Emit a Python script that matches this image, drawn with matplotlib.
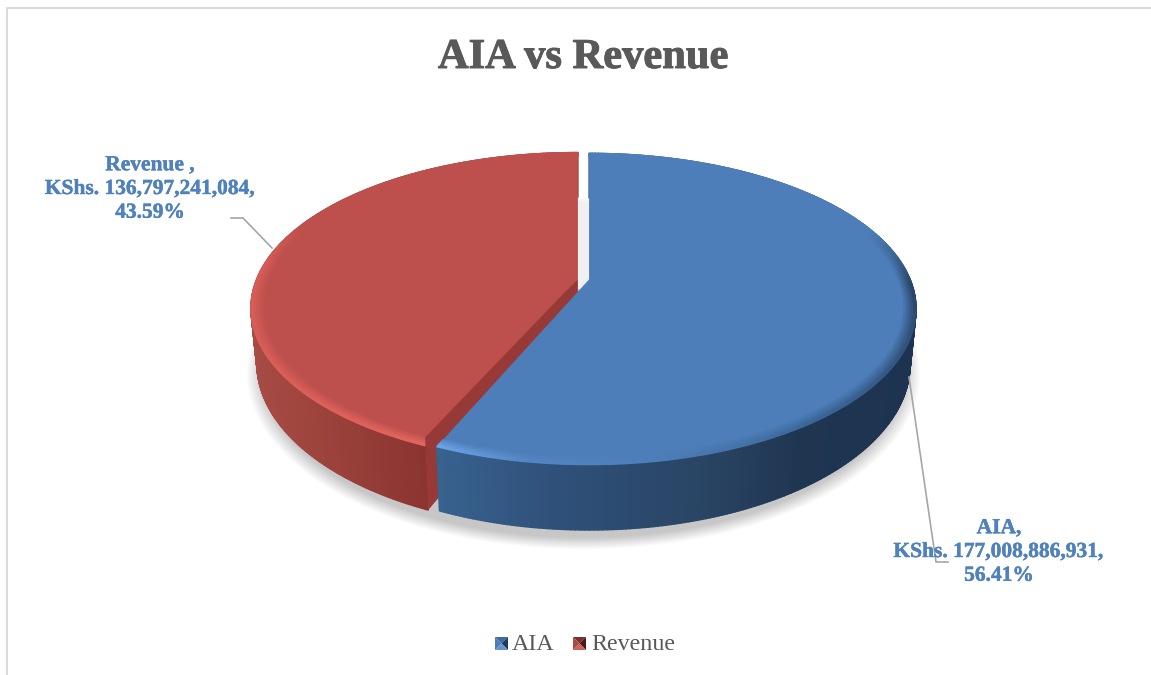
import numpy as np
import matplotlib
matplotlib.use("Agg")
import matplotlib.pyplot as plt
import matplotlib.patheffects as pe
from matplotlib.collections import PolyCollection
from matplotlib.colors import to_rgb

categories = ["AIA", "Revenue"]
values = [177008886931, 136797241084]
percents = ["56.41%", "43.59%"]
amounts = ["KShs. 177,008,886,931,", "KShs. 136,797,241,084,"]
title = "AIA vs Revenue"

plt.rcParams["font.family"] = ["Liberation Serif", "DejaVu Serif"]

# pie geometry in pixels, perspective makes the front of the disc bigger
CX, CY = 583.5, 279.0
RX, RY = 321.0, 150.0
PERSP = 0.19
DEPTH = 53.0
EXPLODE = 5.7


def project(u, v, drop=0.0, off=(0.0, 0.0)):
    s = 1.0 / (1.0 + PERSP * v)
    shrink = 1.0 - 0.018 * (drop / DEPTH)
    return CX + off[0] + RX * u * s * shrink, CY + off[1] - RY * v * s + drop * s


def disc(ang, r):
    # ang is clockwise from the top, in degrees
    a = np.radians(ang)
    return r * np.sin(a), r * np.cos(a)


def slice_offset(start, end):
    mid = np.radians((start + end) / 2)
    return EXPLODE * np.sin(mid), -2.0 * np.cos(mid)


def mix(stops, colors, t):
    rgb = np.array([to_rgb(c) for c in colors])
    return np.column_stack([np.interp(t, stops, rgb[:, i]) for i in range(3)])


def strips(ax, x1, y1, x2, y2, colors, zorder):
    polys = []
    for i in range(len(x1) - 1):
        polys.append([(x1[i], y1[i]), (x1[i + 1], y1[i + 1]), (x2[i + 1], y2[i + 1]), (x2[i], y2[i])])
    col = PolyCollection(polys, facecolors=colors, edgecolors=colors, linewidths=1.0, zorder=zorder)
    ax.add_collection(col)


def draw_slice(ax, start, end, top, wall_x, wall_c, rim_a, rim_c, z):
    off = slice_offset(start, end)
    ang = np.linspace(start, end, 300)
    u, v = disc(ang, 1.0)

    # outer wall
    xt, yt = project(u, v, 0.0, off)
    xb, yb = project(u, v, DEPTH, off)
    strips(ax, xt, yt, xb, yb, mix(wall_x, wall_c, (xt + xb) / 2), z)

    # flat top
    x0, y0 = project(0.0, 0.0, 0.0, off)
    ax.fill(np.r_[x0, xt], np.r_[y0, yt], color=top, lw=0, zorder=z + 1)

    # bevel round the edge
    edge = mix(rim_a, rim_c, ang)
    radii = np.linspace(0.965, 1.0, 6)
    for i in range(5):
        f = (i + 1) / 5
        u1, v1 = disc(ang, radii[i])
        u2, v2 = disc(ang, radii[i + 1])
        x1, y1 = project(u1, v1, 0.0, off)
        x2, y2 = project(u2, v2, 0.0, off)
        c = np.array(to_rgb(top)) * (1 - f) + edge * f
        strips(ax, x1, y1, x2, y2, c, z + 2)


fig = plt.figure(figsize=(11.51, 6.75), dpi=100)
ax = fig.add_axes([0, 0, 1, 1])
ax.set_xlim(0, 1151)
ax.set_ylim(675, 0)
ax.axis("off")

# chart border, only top and left are in the crop
ax.plot([7, 7, 1151], [675, 8, 8], color="#d9d9d9", lw=1.4, zorder=0)

# soft shadow
t = np.linspace(0, 360, 240)
for k in range(14):
    u, v = disc(t, 1.0 + 0.0035 * (14 - k))
    sx, sy = project(u, v, DEPTH + 6)
    ax.fill(sx, sy, color="#000000", alpha=0.016, lw=0, zorder=1)
# the shadow is nearly gone in the gap between the slices
ax.fill([CX - 12, CX + 12, CX + 12, CX - 12], [150, 150, CY + 10, CY + 10], color="white", alpha=0.75, lw=0, zorder=1.5)

total = sum(values)
split = 360.0 * values[0] / total

draw_slice(ax, split, 360.0, "#bd4f4c",
           [250, 300, 430], ["#a84b46", "#a0463f", "#8a3430"],
           [split, 235, 275, 292, 300], ["#e2655f", "#d85e58", "#d65c57", "#c0504d", "#bd4f4c"], 3)

# cut face of the red slice shows in the gap, it sits over the red top edge
off_r = slice_offset(split, 360.0)
eu, ev = disc(split, 1.0)
face = [project(0.0, 0.0, 0.0, off_r), project(eu, ev, -7.0, off_r), project(eu, ev, DEPTH, off_r), project(0.0, 0.0, DEPTH, off_r)]
ax.fill([p[0] for p in face], [p[1] for p in face], color="#973a37", lw=0, zorder=6)

draw_slice(ax, 0.0, split, "#4d7eb9",
           [440, 560, 700, 800, 915], ["#38628f", "#2f5079", "#2a4565", "#1f3651", "#1d3350"],
           [0, 70, 92, 140, 170, 188, split], ["#4d7eb9", "#4d7eb9", "#2a4669", "#3a6394", "#4d7eb9", "#5285c4", "#6ea4e6"], 7)

ax.text(583, 58, title, ha="center", va="center", fontsize=30.6, fontweight="bold", color="#595959", zorder=20,
        path_effects=[pe.withStroke(linewidth=0.7, foreground="#595959")])

# leader lines
ax.plot([909, 936, 948], [377, 562, 562], color="#a6a6a6", lw=1.2, zorder=12)
ax.plot([272, 243, 231], [248, 218, 218], color="#a6a6a6", lw=1.2, zorder=12)

ax.text(999, 552, categories[0] + ",\n" + amounts[0] + "\n" + percents[0], ha="center", va="center",
        fontsize=15.45, fontweight="bold", color="#4f81bd", linespacing=1.25, zorder=20,
        path_effects=[pe.withStroke(linewidth=0.3, foreground="#4f81bd")])
ax.text(150, 189, categories[1] + " ,\n" + amounts[1] + "\n" + percents[1], ha="center", va="center",
        fontsize=15.45, fontweight="bold", color="#4f81bd", linespacing=1.25, zorder=20,
        path_effects=[pe.withStroke(linewidth=0.3, foreground="#4f81bd")])


# legend keys with the little pyramid shading
def legend_key(x, y, size, shades):
    cx, cy = x + size / 2, y + size / 2
    corners = [(x, y), (x + size, y), (x + size, y + size), (x, y + size)]
    for i in range(4):
        a, b = corners[i], corners[(i + 1) % 4]
        ax.fill([a[0], b[0], cx], [a[1], b[1], cy], color=shades[i], lw=0, zorder=20)


legend_key(495, 637, 13, ["#3d6ba5", "#1f3a5c", "#6394d0", "#4a7cb8"])
legend_key(573, 637, 13, ["#7a302d", "#4a1a18", "#d0605c", "#a84a46"])
ax.text(512, 645, categories[0], ha="left", va="center", fontsize=17.3, color="#595959", zorder=20)
ax.text(591, 645, categories[1], ha="left", va="center", fontsize=17.3, color="#595959", zorder=20)

fig.savefig("out.png", dpi=100)
